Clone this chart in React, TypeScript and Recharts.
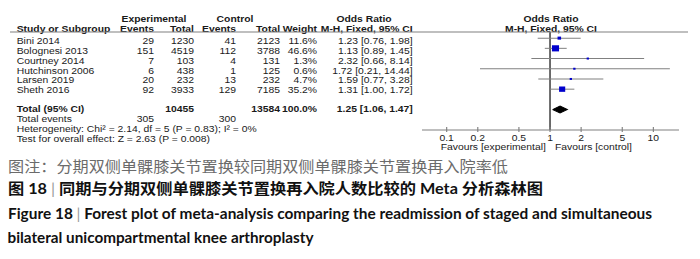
import React from "react";
import { ScatterChart, Scatter, XAxis, YAxis, ErrorBar, ReferenceLine } from "recharts";

// study rows
const studies = ["Bini 2014", "Bolognesi 2013", "Courtney 2014", "Hutchinson 2006", "Larsen 2019", "Sheth 2016"];
const expEvents = [29, 151, 7, 6, 20, 92];
const expTotal = [1230, 4519, 103, 438, 232, 3933];
const ctlEvents = [41, 112, 4, 1, 13, 129];
const ctlTotal = [2123, 3788, 131, 125, 232, 7185];
const weights = [11.6, 46.6, 1.3, 0.6, 4.7, 35.2];
const oddsRatio = [1.23, 1.13, 2.32, 1.72, 1.59, 1.31];
const ciLow = [0.76, 0.89, 0.66, 0.21, 0.77, 1.0];
const ciHigh = [1.98, 1.45, 8.14, 14.44, 3.28, 1.72];

// pooled
const totalExp = 10455;
const totalCtl = 13584;
const totalExpEvents = 305;
const totalCtlEvents = 300;
const pooledOR = 1.25;
const pooledLow = 1.06;
const pooledHigh = 1.47;

const axisTicks = [0.1, 0.2, 0.5, 1, 2, 5, 10];

// the forest plot image in the reference is stretched horizontally
const S = 1.15;
const FW = 700 / S;
const px = (v: number) => v / S;

const FONT = "'Liberation Sans', Arial, sans-serif";
const INK = "#1a1a1a";
const TOTAL_ROW = 8;
const DIAMOND_HALF = 0.34;

const fmt2 = (v: number) => v.toFixed(2);
const ciText = (o: number, l: number, h: number) => `${fmt2(o)} [${fmt2(l)}, ${fmt2(h)}]`;

const studyPoints = studies.map((name, i) => ({
  name,
  x: oddsRatio[i],
  y: i + 1,
  w: weights[i],
  err: [oddsRatio[i] - ciLow[i], ciHigh[i] - oddsRatio[i]],
}));

const diamondPoints = [
  { x: pooledLow, y: TOTAL_ROW },
  { x: pooledOR, y: TOTAL_ROW - DIAMOND_HALF },
  { x: pooledHigh, y: TOTAL_ROW },
  { x: pooledOR, y: TOTAL_ROW + DIAMOND_HALF },
  { x: pooledLow, y: TOTAL_ROW },
];

const WeightBox = (props: any) => {
  const { cx, cy, payload } = props;
  const side = Math.max(2, 0.9 * Math.sqrt(payload.w));
  return <rect x={cx - side / 2} y={cy - side / 2} width={side} height={side} fill="#0000cc" />;
};

const Tick = (props: any) => {
  const { x, y, payload } = props;
  return (
    <g>
      <line x1={x} x2={x} y1={y - 3} y2={y + 2} stroke="#808080" />
      <text x={x} y={y + 8} textAnchor="middle" dominantBaseline="central" fontSize={9} fill={INK} fontFamily={FONT}>
        {payload.value}
      </text>
    </g>
  );
};

const T = (p: { x: number; y: number; anchor?: "start" | "middle" | "end"; bold?: boolean; children: React.ReactNode }) => (
  <text
    x={px(p.x)}
    y={p.y}
    textAnchor={p.anchor || "end"}
    dominantBaseline="central"
    fontSize={9}
    fontWeight={p.bold ? "bold" : "normal"}
    fill={INK}
    fontFamily={FONT}
  >
    {p.children}
  </text>
);

function Table() {
  const rowY = (i: number) => 40.6 + 9.9 * i;
  return (
    <svg width={FW} height={160} style={{ position: "absolute", left: 0, top: 0 }}>
      <T x={154} y={18.3} anchor="middle" bold>Experimental</T>
      <T x={235} y={18.3} anchor="middle" bold>Control</T>
      <T x={364} y={18.3} anchor="middle" bold>Odds Ratio</T>
      <T x={551} y={18.3} anchor="middle" bold>Odds Ratio</T>

      <T x={16.7} y={29} anchor="start" bold>Study or Subgroup</T>
      <T x={154} y={29} bold>Events</T>
      <T x={194} y={29} bold>Total</T>
      <T x={236} y={29} bold>Events</T>
      <T x={280} y={29} bold>Total</T>
      <T x={317} y={29} bold>Weight</T>
      <T x={412.7} y={29} bold>M-H, Fixed, 95% CI</T>
      <T x={551} y={29} anchor="middle" bold>M-H, Fixed, 95% CI</T>

      <line x1={px(10)} x2={px(688)} y1={32} y2={32} stroke="#808080" />

      {studies.map((s, i) => (
        <g key={s}>
          <T x={16.7} y={rowY(i)} anchor="start">{s}</T>
          <T x={154} y={rowY(i)}>{expEvents[i]}</T>
          <T x={194} y={rowY(i)}>{expTotal[i]}</T>
          <T x={236} y={rowY(i)}>{ctlEvents[i]}</T>
          <T x={280} y={rowY(i)}>{ctlTotal[i]}</T>
          <T x={317} y={rowY(i)}>{weights[i].toFixed(1)}%</T>
          <T x={412.7} y={rowY(i)}>{ciText(oddsRatio[i], ciLow[i], ciHigh[i])}</T>
        </g>
      ))}

      <T x={16.7} y={108.3} anchor="start" bold>Total (95% CI)</T>
      <T x={194} y={108.3} bold>{totalExp}</T>
      <T x={280} y={108.3} bold>{totalCtl}</T>
      <T x={317} y={108.3} bold>100.0%</T>
      <T x={412.7} y={108.3} bold>{ciText(pooledOR, pooledLow, pooledHigh)}</T>

      <T x={16.7} y={118.3} anchor="start">Total events</T>
      <T x={154} y={118.3}>{totalExpEvents}</T>
      <T x={236} y={118.3}>{totalCtlEvents}</T>
      <T x={16.7} y={128.3} anchor="start">Heterogeneity: Chi² = 2.14, df = 5 (P = 0.83); I² = 0%</T>
      <T x={16.7} y={138.3} anchor="start">Test for overall effect: Z = 2.63 (P = 0.008)</T>

      <T x={440.7} y={146.7} anchor="start">Favours [experimental]</T>
      <T x={555} y={146.7} anchor="start">Favours [control]</T>
    </svg>
  );
}

function Forest() {
  return (
    <ScatterChart
      width={FW}
      height={160}
      margin={{ top: 32, right: FW - px(679), bottom: 0, left: px(422) }}
    >
      <XAxis
        type="number"
        dataKey="x"
        scale="log"
        domain={[0.0577, 17.7]}
        ticks={axisTicks}
        interval={0}
        allowDataOverflow
        axisLine={{ stroke: "#808080" }}
        tickLine={false}
        tickSize={0}
        tickMargin={0}
        height={30}
        tick={<Tick />}
      />
      <YAxis type="number" dataKey="y" domain={[0.4, 10]} reversed hide />
      <ReferenceLine x={1} stroke="#000" />
      <Scatter data={studyPoints} shape={<WeightBox />} isAnimationActive={false}>
        <ErrorBar dataKey="err" direction="x" width={0} stroke="#808080" strokeWidth={1} />
      </Scatter>
      <Scatter
        data={diamondPoints}
        line={{ fill: "#000", stroke: "#000", strokeWidth: 1 }}
        lineJointType="linear"
        shape={() => <g />}
        isAnimationActive={false}
      />
    </ScatterChart>
  );
}

const CAP_FONT = "Lato, 'Noto Sans CJK SC', sans-serif";

export default function App() {
  return (
    <div style={{ position: "relative", width: 700, height: 259, overflow: "hidden", background: "#fff" }}>
      <style>{"body{margin:0}"}</style>
      <div style={{ position: "absolute", left: 0, top: 0, width: FW, height: 160, transform: `scaleX(${S})`, transformOrigin: "0 0" }}>
        <Forest />
        <Table />
      </div>
      <svg width={700} height={259} style={{ position: "absolute", left: 0, top: 0 }}>
        <text x={8} y={165} dominantBaseline="central" fontSize={15} fill="#6b6b6b" fontFamily="'Noto Sans CJK SC', sans-serif" textLength={500} lengthAdjust="spacingAndGlyphs">
          图注：分期双侧单髁膝关节置换较同期双侧单髁膝关节置换再入院率低
        </text>
        <text x={8} y={188} dominantBaseline="central" fontSize={15} fontWeight="bold" fill="#111" fontFamily={CAP_FONT} textLength={535} lengthAdjust="spacingAndGlyphs">
          图 18 <tspan fill="#999" fontWeight="normal">|</tspan> 同期与分期双侧单髁膝关节置换再入院人数比较的 Meta 分析森林图
        </text>
        <text x={8} y={213} dominantBaseline="central" fontSize={14.5} fontWeight="bold" fill="#111" fontFamily={CAP_FONT} textLength={644} lengthAdjust="spacingAndGlyphs">
          Figure 18 <tspan fill="#999" fontWeight="normal">|</tspan> Forest plot of meta-analysis comparing the readmission of staged and simultaneous
        </text>
        <text x={7.5} y={237} dominantBaseline="central" fontSize={14.5} fontWeight="bold" fill="#111" fontFamily={CAP_FONT} textLength={306} lengthAdjust="spacingAndGlyphs">
          bilateral unicompartmental knee arthroplasty
        </text>
      </svg>
    </div>
  );
}
